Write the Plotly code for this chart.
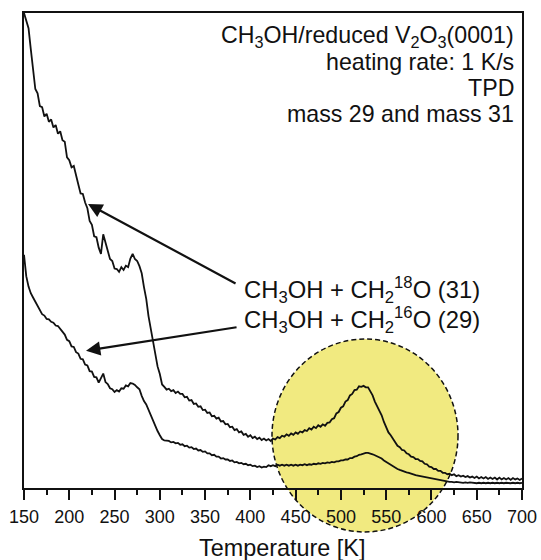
import numpy as np
import plotly.graph_objects as go

# TPD of CH3OH on reduced V2O3(0001), sampled every 2.5 K from 150 K to 700 K
T_START, T_STEP = 150.0, 2.5

# mass 31: CH3OH + CH2(18)O  (arb. units)
mass31 = [
    100.0, 98.6, 96.8, 92.4, 87.9, 84.0, 83.1, 80.4, 80.2, 78.2,
    78.8, 77.1, 77.6, 75.9, 76.4, 74.6, 75.1, 73.2, 72.9, 69.6,
    69.0, 67.5, 67.8, 65.6, 63.9, 62.0, 61.9, 60.1, 58.9, 56.2,
    55.4, 53.0, 52.8, 50.6, 49.3, 53.4, 51.6, 49.8, 48.2, 47.8,
    46.2, 46.1, 45.5, 46.5, 45.9, 46.8, 46.5, 48.3, 49.3, 48.2,
    47.8, 46.7, 45.2, 42.3, 39.8, 36.2, 33.4, 30.3, 28.2, 25.6,
    24.0, 21.8, 21.3, 20.7, 20.9, 20.4, 20.6, 20.0, 20.3, 19.8,
    19.8, 19.1, 19.2, 18.4, 18.5, 17.7, 17.8, 17.1, 17.2, 16.4,
    16.5, 15.8, 15.9, 15.1, 15.2, 14.6, 14.8, 14.0, 14.1, 13.4,
    13.5, 12.8, 12.9, 12.2, 12.4, 11.7, 11.9, 11.2, 11.4, 10.8,
    11.1, 10.5, 10.8, 10.3, 10.6, 10.1, 10.4, 10.0, 10.3, 9.9,
    10.4, 10.2, 10.7, 10.5, 11.0, 10.8, 11.3, 11.0, 11.5, 11.2,
    11.7, 11.4, 11.9, 11.7, 12.2, 12.0, 12.6, 12.3, 12.9, 12.6,
    13.2, 12.9, 13.4, 13.1, 13.7, 13.8, 14.5, 14.7, 15.7, 16.0,
    16.9, 17.2, 18.2, 18.5, 19.5, 19.8, 20.6, 20.7, 21.4, 21.3,
    21.5, 21.2, 21.2, 20.4, 19.5, 18.2, 17.3, 16.3, 15.3, 13.9,
    12.9, 11.7, 11.1, 10.3, 9.8, 8.9, 8.6, 8.0, 7.9, 7.3,
    7.1, 6.6, 6.5, 6.1, 6.1, 5.7, 5.6, 5.1, 5.0, 4.5,
    4.4, 4.0, 4.0, 3.6, 3.6, 3.2, 3.2, 2.9, 3.0, 2.7,
    2.9, 2.5, 2.7, 2.4, 2.6, 2.3, 2.5, 2.2, 2.4, 2.1,
    2.4, 2.0, 2.3, 2.0, 2.3, 1.9, 2.2, 1.9, 2.2, 1.8,
    2.2, 1.8, 2.1, 1.8, 2.1, 1.7, 2.1, 1.8, 2.0, 1.7,
    2.0,
]

# mass 29: CH3OH + CH2(16)O  (arb. units)
mass29 = [
    49.1, 44.6, 42.4, 41.0, 40.1, 39.3, 38.2, 37.6, 36.6, 36.3,
    35.6, 35.5, 35.0, 34.8, 34.2, 34.1, 33.5, 32.8, 32.3, 31.2,
    30.9, 29.8, 29.7, 28.6, 28.3, 27.2, 27.1, 26.0, 25.8, 24.6,
    24.5, 23.4, 23.3, 22.2, 23.0, 24.1, 22.3, 21.9, 21.0, 20.8,
    20.2, 20.6, 20.3, 21.0, 20.9, 21.6, 21.4, 22.1, 22.0, 21.7,
    21.2, 20.8, 19.4, 18.3, 17.6, 16.4, 15.6, 14.3, 13.1, 12.0,
    11.1, 10.3, 10.0, 9.9, 9.9, 9.6, 9.7, 9.4, 9.5, 9.1,
    9.2, 8.8, 8.9, 8.5, 8.6, 8.2, 8.3, 7.9, 8.0, 7.6,
    7.7, 7.3, 7.3, 6.9, 7.0, 6.6, 6.6, 6.2, 6.3, 6.0,
    6.0, 5.7, 5.8, 5.4, 5.5, 5.2, 5.3, 5.0, 5.1, 4.8,
    4.9, 4.6, 4.7, 4.4, 4.6, 4.3, 4.5, 4.4, 4.8, 4.6,
    4.8, 4.6, 4.9, 4.7, 4.9, 4.7, 4.9, 4.7, 4.9, 4.7,
    4.9, 4.7, 4.9, 4.8, 5.0, 4.8, 5.0, 4.9, 5.1, 5.0,
    5.2, 5.1, 5.3, 5.2, 5.4, 5.3, 5.5, 5.4, 5.6, 5.6,
    5.8, 5.8, 6.0, 6.0, 6.3, 6.3, 6.6, 6.7, 7.0, 7.1,
    7.3, 7.4, 7.4, 7.3, 7.1, 6.9, 6.7, 6.4, 6.2, 5.8,
    5.5, 5.1, 4.8, 4.5, 4.3, 4.0, 3.8, 3.6, 3.5, 3.3,
    3.2, 3.0, 2.9, 2.7, 2.6, 2.5, 2.4, 2.3, 2.2, 2.1,
    2.0, 1.9, 1.8, 1.7, 1.6, 1.5, 1.4, 1.4, 1.3, 1.3,
    1.2, 1.3, 1.2, 1.2, 1.1, 1.2, 1.1, 1.2, 1.1, 1.1,
    1.0, 1.1, 1.0, 1.1, 1.0, 1.1, 1.0, 1.1, 1.0, 1.1,
    1.0, 1.1, 1.0, 1.1, 1.0, 1.0, 1.1, 1.0, 1.1, 1.0,
    1.1,
]

temperature = T_START + T_STEP * np.arange(len(mass31))

x_ticks = [150, 200, 250, 300, 350, 400, 450, 500, 550, 600, 650, 700]

info_lines = [
    "CH<sub>3</sub>OH/reduced V<sub>2</sub>O<sub>3</sub>(0001)",
    "heating rate: 1 K/s",
    "TPD",
    "mass 29 and mass 31",
]
label31 = "CH<sub>3</sub>OH + CH<sub>2</sub><sup>18</sup>O (31)"
label29 = "CH<sub>3</sub>OH + CH<sub>2</sub><sup>16</sup>O (29)"
x_title = "Temperature [K]"

FONT = "Liberation Sans, Arial, Helvetica, sans-serif"
INK = "#111111"

fig = go.Figure()
for series in (mass31, mass29):
    fig.add_trace(go.Scatter(
        x=temperature, y=series, mode="lines",
        line=dict(color=INK, width=1.8), hoverinfo="skip", showlegend=False,
    ))

# highlighted desorption region (formaldehyde peak)
fig.add_shape(
    type="circle", xref="paper", yref="paper",
    x0=0.498, x1=0.8715, y0=-0.0926, y1=0.3137,
    fillcolor="#f1ea80", line=dict(color=INK, width=1.5, dash="5px,3px"),
    layer="below",
)

# info block in the upper right corner
for i, line in enumerate(info_lines):
    fig.add_annotation(
        text=line, xref="paper", yref="paper", x=0.985, y=0.9495 - i * 0.0537,
        xanchor="right", yanchor="middle", showarrow=False, borderpad=0,
        font=dict(family=FONT, size=23.2, color=INK),
    )

# curve labels
for text, ypos in ((label31, 0.4168), (label29, 0.3537)):
    fig.add_annotation(
        text=text, xref="paper", yref="paper", x=0.9177, y=ypos,
        xanchor="right", yanchor="middle", showarrow=False, borderpad=0,
        font=dict(family=FONT, size=23.8, color=INK),
    )

# arrows from the labels to the curves
for head, tail in (((220.7, 59.8), (385.3, 42.9)), ((218.5, 28.9), (386.4, 33.9))):
    fig.add_annotation(
        text="", x=head[0], y=head[1], ax=tail[0], ay=tail[1],
        xref="x", yref="y", axref="x", ayref="y",
        showarrow=True, arrowhead=2, arrowsize=1.3, arrowwidth=2.2,
        arrowcolor=INK, standoff=0,
    )

# axis title, set slightly right of the axis centre
fig.add_annotation(
    text=x_title, xref="paper", yref="paper", x=0.519, y=-0.1263,
    xanchor="center", yanchor="middle", showarrow=False,
    font=dict(family=FONT, size=23.4, color=INK),
)

fig.update_layout(
    width=541, height=560,
    margin=dict(l=24, r=19, t=13, b=72),
    paper_bgcolor="white", plot_bgcolor="white",
    font=dict(family=FONT, color=INK),
)
fig.update_xaxes(
    range=[150, 700], tickvals=x_ticks, automargin=False,
    ticks="outside", ticklen=10, tickwidth=1.5, tickcolor=INK,
    minor=dict(dtick=25, tick0=150, ticks="outside", ticklen=5, tickwidth=1.5,
               tickcolor=INK, showgrid=False),
    showline=True, linewidth=1.5, linecolor=INK, mirror=True,
    showgrid=False, zeroline=False,
    tickfont=dict(family=FONT, size=18, color=INK), ticklabelstandoff=2,
)
fig.update_yaxes(
    range=[0, 100], automargin=False,
    showline=True, linewidth=1.5, linecolor=INK, mirror=True,
    showticklabels=False, ticks="", showgrid=False, zeroline=False,
)

fig.write_html("out.html")
